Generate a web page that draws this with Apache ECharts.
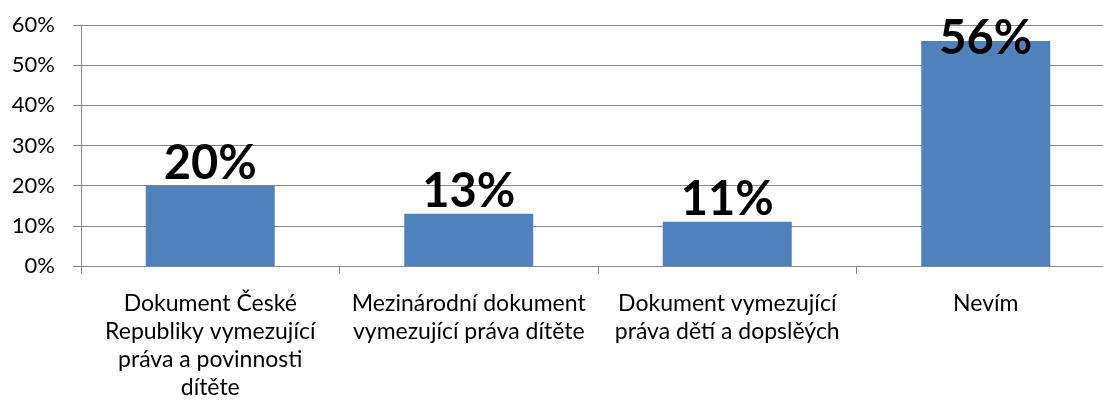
<!DOCTYPE html>
<html>
<head>
<meta charset="utf-8">
<script src="https://cdn.jsdelivr.net/npm/echarts@6/dist/echarts.min.js"></script>
<style>
  html, body { margin: 0; padding: 0; background: #fff; }
  #chart { width: 1103px; height: 406px; }
</style>
</head>
<body>
<div id="chart"></div>
<script>
// line breaks as in the original axis labels
const categories = [
    'Dokument České\nRepubliky vymezující\npráva a povinnosti\ndítěte',
    'Mezinárodní dokument\nvymezující práva dítěte',
    'Dokument vymezující\npráva dětí a dopslěých',
    'Nevím',
];
const values = [20, 13, 11, 56];
const yTicks = {min: 0, max: 60, interval: 10};

const font = 'Lato, "Noto Sans", sans-serif';
const chart = echarts.init(document.getElementById('chart'), null, {renderer: 'canvas'});

chart.setOption({
    animation: false,
    grid: {left: 81, width: 1034, top: 25, height: 241, outerBoundsMode: 'none', containLabel: false},
    xAxis: {
        type: 'category',
        data: categories,
        boundaryGap: true,
        axisLine: {lineStyle: {color: '#868686', width: 1}},
        axisTick: {show: true, length: 8, lineStyle: {color: '#868686'}},
        axisLabel: {
            interval: 0,
            margin: 24,
            lineHeight: 28,
            fontSize: 23,
            fontFamily: font,
            color: '#000',
        },
    },
    yAxis: {
        type: 'value',
        min: yTicks.min,
        max: yTicks.max,
        interval: yTicks.interval,
        axisLine: {show: true, lineStyle: {color: '#868686', width: 1}},
        axisTick: {show: true, length: 8, lineStyle: {color: '#868686'}},
        splitLine: {lineStyle: {color: '#868686', width: 1}},
        axisLabel: {
            formatter: v => v + '%',
            fontSize: 22,
            margin: 26,
            fontFamily: font,
            color: '#000',
        },
    },
    series: [{
        type: 'bar',
        data: values.map((v, i) => ({
            value: v,
            label: i === values.length - 1 ? {position: 'insideTop', offset: [0, -24]} : undefined,
        })),
        barWidth: 129,
        itemStyle: {color: '#4f81bd'},
        label: {
            show: true,
            position: 'top',
            distance: -2,
            formatter: p => p.value + '%',
            fontSize: 47,
            fontWeight: 'bold',
            fontFamily: font,
            color: '#000',
        },
    }],
});
</script>
</body>
</html>
